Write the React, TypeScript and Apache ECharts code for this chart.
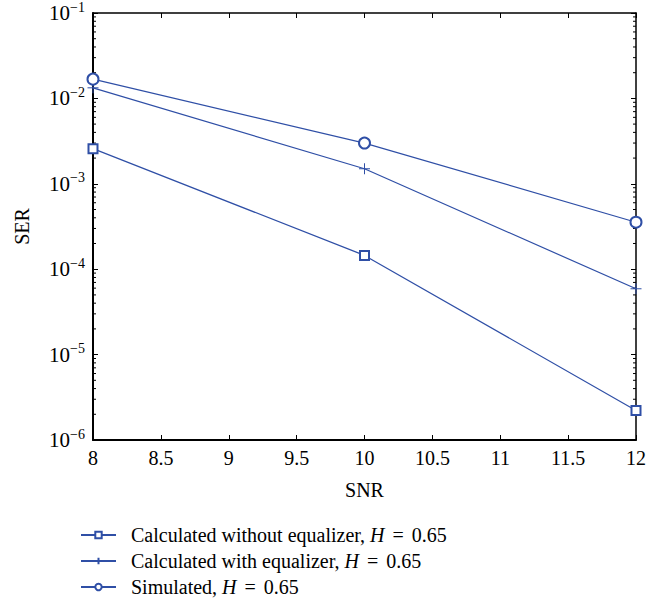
import React, { useEffect, useRef } from "react";
import * as echarts from "echarts";

const snr = [8, 10, 12];
const serWithout = [2.58e-3, 1.45e-4, 2.22e-6];
const serWith = [1.33e-2, 1.5e-3, 5.9e-5];
const serSim = [1.68e-2, 3.0e-3, 3.55e-4];
const seriesNames = [
  "Calculated without equalizer, H = 0.65",
  "Calculated with equalizer, H = 0.65",
  "Simulated, H = 0.65",
];
const decades = [-6, -5, -4, -3, -2];
const minorMultipliers = [2, 3, 4, 5, 6, 7, 8, 9];
const minorTicks: number[] = [];
decades.forEach((d) => minorMultipliers.forEach((m) => minorTicks.push(m * Math.pow(10, d))));

const BLUE = "#2f4fa6";
const FONT = "Liberation Serif";

export default function App() {
  const ref = useRef<HTMLDivElement>(null);
  useEffect(() => {
    if (!ref.current) return;
    const chart = echarts.init(ref.current, null, { renderer: "svg" });
    const supLabel = (v: number) => {
      const e = Math.round(Math.log10(v));
      return `{b|10}{s|${e < 0 ? "\u2212" + -e : e}}`;
    };
    const lineSeries = (name: string, data: number[], symbol: string, size: number) => ({
      type: "line",
      name,
      data: snr.map((x, i) => [x, data[i]]),
      symbol,
      symbolSize: size,
      showAllSymbol: true,
      lineStyle: { color: BLUE, width: 1.2 },
      itemStyle: {
        color: symbol === "emptyRect" || symbol === "emptyCircle" ? BLUE : "rgba(0,0,0,0)",
        borderColor: BLUE,
        borderWidth: 1,
      },
      clip: false,
      z: 3,
    });
    chart.setOption({
      animation: false,
      grid: { left: 93, top: 12, right: 29, bottom: 164 },
      xAxis: [
        {
          type: "value",
          min: 8,
          max: 12,
          interval: 0.5,
          name: "SNR",
          nameLocation: "middle",
          nameGap: 40,
          nameTextStyle: { fontFamily: FONT, fontSize: 20, color: "#000" },
          axisLine: { show: true, lineStyle: { color: "#000", width: 2 } },
          axisTick: { inside: true, length: 5, lineStyle: { color: "#000", width: 1 } },
          axisLabel: { fontFamily: FONT, fontSize: 20, color: "#000", margin: 8 },
          splitLine: { show: false },
        },
        {
          type: "value",
          position: "top",
          min: 8,
          max: 12,
          interval: 0.5,
          axisLine: { show: true, lineStyle: { color: "#000", width: 1.5 } },
          axisTick: { inside: true, length: 5, lineStyle: { color: "#000", width: 1 } },
          axisLabel: { show: false },
          splitLine: { show: false },
        },
      ],
      yAxis: [
        {
          type: "log",
          logBase: 10,
          min: 1e-6,
          max: 1e-1,
          interval: 1,
          name: "SER",
          nameLocation: "middle",
          nameGap: 61,
          nameTextStyle: { fontFamily: FONT, fontSize: 20, color: "#000" },
          axisLine: { show: true, lineStyle: { color: "#000", width: 2 } },
          axisTick: { inside: true, length: 5, lineStyle: { color: "#000", width: 1 } },
          axisLabel: {
            fontFamily: FONT,
            fontSize: 21,
            color: "#000",
            margin: 8,
            formatter: supLabel,
            rich: {
              b: { fontFamily: FONT, fontSize: 21, color: "#000" },
              s: { fontFamily: FONT, fontSize: 14, color: "#000", padding: [0, 0, 12, 0] },
            },
          },
          splitLine: { show: false },
        },
        {
          type: "log",
          logBase: 10,
          min: 1e-6,
          max: 1e-1,
          interval: 1,
          position: "right",
          axisLine: { show: true, lineStyle: { color: "#000", width: 1.5 } },
          axisTick: { inside: true, length: 5, lineStyle: { color: "#000", width: 1 } },
          axisLabel: { show: false },
          splitLine: { show: false },
        },
      ],
      legend: {
        orient: "vertical",
        left: 80,
        top: 525,
        padding: 0,
        itemWidth: 35,
        itemHeight: 8,
        itemGap: 6,
        data: seriesNames,
        formatter: (n: string) => n.replace("H = ", "{i|H}{s| = }"),
        textStyle: {
          fontFamily: FONT,
          fontSize: 20,
          color: "#000",
          padding: [0, 0, 0, 10],
          rich: {
            i: { fontFamily: FONT, fontSize: 20, fontStyle: "italic", color: "#000" },
            s: { fontFamily: FONT, fontSize: 20, color: "#000", padding: [0, 3, 0, 3] },
          },
        },
      },
      series: [
        lineSeries(seriesNames[0], serWithout, "emptyRect", 9),
        lineSeries(seriesNames[1], serWith, "path://M0,5L10,5M5,0L5,10", 11),
        lineSeries(seriesNames[2], serSim, "emptyCircle", 11),
        {
          type: "custom",
          name: "minor",
          data: minorTicks.map((v) => [8, v]),
          clip: false,
          silent: true,
          renderItem: (_p: any, api: any) => {
            const v = api.value(1);
            const l = api.coord([8, v]);
            const r = api.coord([12, v]);
            const style = { stroke: "#000", lineWidth: 1 };
            return {
              type: "group",
              children: [
                { type: "line", shape: { x1: l[0], y1: l[1], x2: l[0] + 3, y2: l[1] }, style },
                { type: "line", shape: { x1: r[0], y1: r[1], x2: r[0] - 3, y2: r[1] }, style },
              ],
            };
          },
        },
      ],
    });
    return () => chart.dispose();
  }, []);
  return <div ref={ref} style={{ position: "fixed", left: 0, top: 0, width: 665, height: 604, background: "#fff" }} />;
}
